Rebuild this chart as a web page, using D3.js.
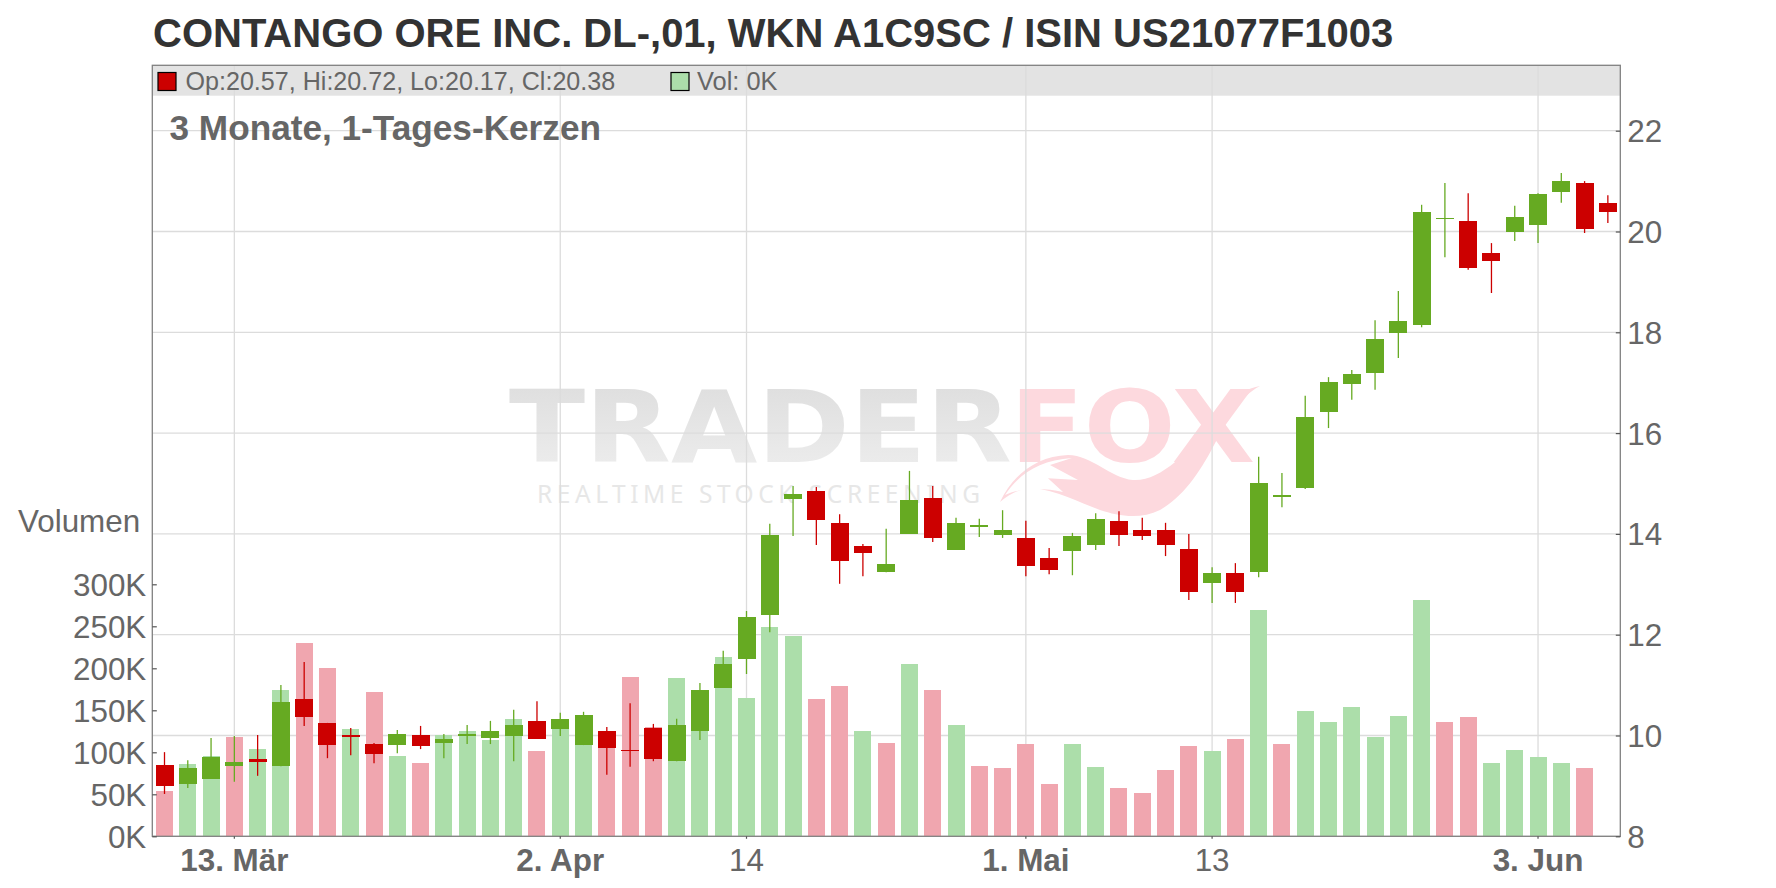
<!DOCTYPE html>
<html>
<head>
<meta charset="utf-8">
<script src="https://cdn.jsdelivr.net/npm/d3@7"></script>
<style>
    body { margin: 0; background: #fff; }
    text { font-family: "Liberation Sans", Arial, sans-serif; }
</style>
</head>
<body>
<div id="graph"></div>
<script>
// prices and volume, one entry per trading day
let candleOpen = [9.41, 9.04, 9.14, 9.39, 9.53, 9.39, 10.72, 10.25, 10.01, 9.83,
    9.81, 10.01, 9.85, 9.99, 9.95, 9.99, 10.29, 10.13, 9.81, 10.09,
    9.71, 10.15, 9.49, 10.09, 10.94, 11.52, 12.39, 14.69, 14.85, 14.22,
    13.76, 13.24, 14.00, 14.71, 13.68, 14.14, 13.98, 13.92, 13.52, 13.66,
    13.78, 14.26, 14.08, 14.08, 13.70, 13.03, 13.22, 13.24, 14.73, 14.91,
    16.42, 16.97, 17.19, 17.99, 18.14, 20.25, 20.21, 19.57, 19.99, 20.13,
    20.78, 20.96, 20.57];
let candleHigh = [9.67, 9.51, 9.95, 9.99, 10.01, 11.00, 11.46, 10.25, 10.15, 9.85,
    10.11, 10.19, 10.03, 10.21, 10.29, 10.51, 10.68, 10.45, 10.47, 10.17,
    10.64, 10.23, 10.33, 11.04, 11.68, 12.47, 14.20, 14.95, 14.93, 14.39,
    13.80, 14.10, 15.25, 14.95, 14.32, 14.30, 14.47, 14.26, 13.72, 14.02,
    14.41, 14.45, 14.32, 14.22, 14.00, 13.34, 13.42, 15.53, 15.21, 16.74,
    17.11, 17.25, 18.24, 18.82, 20.53, 20.96, 20.76, 19.77, 20.51, 20.76,
    21.16, 21.00, 20.72];
let candleLow = [8.84, 8.96, 9.14, 9.08, 9.20, 9.39, 10.19, 9.55, 9.61, 9.45,
    9.65, 9.73, 9.55, 9.83, 9.83, 9.49, 9.93, 9.99, 9.81, 9.22,
    9.38, 9.49, 9.49, 9.91, 10.94, 11.22, 12.05, 13.96, 13.78, 13.01,
    13.16, 13.24, 14.00, 13.84, 13.68, 13.94, 13.92, 13.16, 13.20, 13.18,
    13.68, 13.76, 13.88, 13.56, 12.69, 12.63, 12.63, 13.14, 14.53, 14.89,
    16.10, 16.66, 16.86, 17.49, 18.10, 19.49, 19.24, 18.78, 19.81, 19.77,
    20.57, 19.97, 20.17];
let candleClose = [9.00, 9.36, 9.57, 9.47, 9.47, 10.66, 10.37, 9.81, 9.97, 9.63,
    10.03, 9.79, 9.93, 10.03, 10.09, 10.21, 9.93, 10.33, 10.41, 9.75,
    9.69, 9.53, 10.21, 10.90, 11.42, 12.35, 13.98, 14.79, 14.28, 13.46,
    13.62, 13.40, 14.67, 13.92, 14.22, 14.18, 14.08, 13.36, 13.28, 13.96,
    14.30, 13.98, 13.96, 13.78, 12.85, 13.22, 12.85, 15.01, 14.77, 16.32,
    17.01, 17.17, 17.87, 18.22, 20.39, 20.27, 19.28, 19.41, 20.29, 20.74,
    21.00, 20.05, 20.38];
// volume in thousands
let volume = [54, 86, 96, 118, 104, 174, 230, 200, 128, 172,
    96, 87, 121, 125, 115, 140, 102, 132, 123, 115,
    190, 130, 188, 144, 213, 165, 249, 238, 163, 179,
    125, 111, 205, 174, 132, 84, 81, 110, 62, 110,
    82.5, 57.5, 51.5, 79, 107.5, 102, 116, 269, 110, 149,
    136, 154, 118, 143, 281, 136, 142, 87, 103, 94,
    87, 81, 0];
let volumeDir = ["d", "u", "u", "d", "u", "u", "d", "d", "u", "d",
    "u", "d", "u", "u", "u", "u", "d", "u", "u", "d",
    "d", "d", "u", "u", "u", "u", "u", "u", "d", "d",
    "u", "d", "u", "d", "u", "d", "d", "d", "d", "u",
    "u", "d", "d", "d", "d", "u", "d", "u", "d", "u",
    "u", "u", "u", "u", "u", "d", "d", "u", "u", "u",
    "u", "d", "d"];

let priceTicks = [8, 10, 12, 14, 16, 18, 20, 22];
let volumeTicks = [0, 50, 100, 150, 200, 250, 300];
let dateTickIndex = [3, 17, 25, 37, 45, 59];
let dateTickLabels = ["13. Mär", "2. Apr", "14", "1. Mai", "13", "3. Jun"];
let dateTickBold = [true, true, false, true, false, true];

let titleText = "CONTANGO ORE INC. DL-,01, WKN A1C9SC / ISIN US21077F1003";
let legendPrice = "Op:20.57, Hi:20.72, Lo:20.17, Cl:20.38";
let legendVolume = "Vol: 0K";
let subtitleText = "3 Monate, 1-Tages-Kerzen";

let upColor = "#66aa22", downColor = "#cc0000";
let volUpColor = "#acdeaa", volDownColor = "#f0a6af";
let gridColor = "#dcdcdc", textColor = "#666666";

let width = 1776, height = 888;
let plot = { left: 152.3, right: 1620.3, top: 65.3, bottom: 836.3 };
let labelSize = 31.4;

let svg = d3.select("#graph")
    .append("svg")
    .attr("width", width)
    .attr("height", height)
    .style("display", "block");

let x = d3.scaleBand()
    .domain(d3.range(candleOpen.length))
    .range([152.86, 1619.5]);
let xc = i => x(i) + x.bandwidth() / 2;

let y = d3.scaleLinear().domain([8, 22]).range([plot.bottom, 130.7]);
let yVol = d3.scaleLinear().domain([0, 300]).range([plot.bottom, 584.3]);

// legend band sits behind the grid
svg.append("rect")
    .attr("x", plot.left)
    .attr("y", plot.top)
    .attr("width", plot.right - plot.left)
    .attr("height", 30.4)
    .attr("fill", "#e3e3e3");

// watermark
let defs = svg.append("defs");
let wmGrad = defs.append("linearGradient")
    .attr("id", "wmGray")
    .attr("x1", 0).attr("y1", 0).attr("x2", 0).attr("y2", 1);
wmGrad.append("stop").attr("offset", "0%").attr("stop-color", "#dcdcdc");
wmGrad.append("stop").attr("offset", "100%").attr("stop-color", "#efefef");

svg.append("text")
    .attr("x", 509)
    .attr("y", 462)
    .attr("textLength", 503)
    .attr("lengthAdjust", "spacingAndGlyphs")
    .style("font-family", "'DejaVu Sans'")
    .style("font-weight", "bold")
    .style("font-size", "100px")
    .attr("fill", "url(#wmGray)")
    .text("TRADER");
svg.append("text")
    .attr("x", 1010)
    .attr("y", 462)
    .attr("textLength", 245)
    .attr("lengthAdjust", "spacingAndGlyphs")
    .style("font-family", "'DejaVu Sans'")
    .style("font-weight", "bold")
    .style("font-size", "100px")
    .attr("fill", "#fdd9de")
    .text("FOX");
svg.append("text")
    .attr("x", 537)
    .attr("y", 503)
    .attr("textLength", 443)
    .style("font-family", "'Noto Sans'")
    .style("font-size", "24.5px")
    .attr("fill", "#e7e7e7")
    .text("REALTIME STOCK SCREENING");
// fox tail
svg.append("path")
    .attr("d", "M1000 502 C1012 476 1036 456 1068 455 C1092 455 1110 478 1133 480 C1160 482 1190 450 1207 430 C1222 410 1236 390 1260 386 C1240 396 1228 420 1213 447 C1200 472 1182 498 1160 510 C1140 520 1118 516 1100 510 C1078 502 1056 490 1033 488 C1020 488 1010 494 1000 502 Z")
    .attr("fill", "#fdd9de");
svg.append("path")
    .attr("d", "M1005 495 C1020 473 1040 460 1072 458 L1050 465 L1078 480 L1048 478.3 L1063 492 C1043 487 1020 488 1005 495 Z")
    .attr("fill", "#ffffff");

// grid
svg.append("g")
    .selectAll("line")
    .data(priceTicks)
    .enter()
    .append("line")
    .attr("x1", plot.left)
    .attr("x2", plot.right)
    .attr("y1", d => y(d))
    .attr("y2", d => y(d))
    .attr("stroke", gridColor)
    .attr("stroke-width", 1.3);
svg.append("g")
    .selectAll("line")
    .data(dateTickIndex)
    .enter()
    .append("line")
    .attr("x1", d => xc(d))
    .attr("x2", d => xc(d))
    .attr("y1", plot.top)
    .attr("y2", plot.bottom)
    .attr("stroke", gridColor)
    .attr("stroke-width", 1.3);

// volume bars
svg.append("g")
    .selectAll("rect")
    .data(volume)
    .enter()
    .append("rect")
    .attr("x", (d, i) => xc(i) - 8.5)
    .attr("y", d => yVol(d))
    .attr("width", 17)
    .attr("height", d => yVol(0) - yVol(d))
    .attr("fill", (d, i) => volumeDir[i] == "u" ? volUpColor : volDownColor)
    .attr("shape-rendering", "crispEdges");

// candles
let candles = svg.append("g")
    .selectAll("g")
    .data(candleOpen)
    .enter()
    .append("g");
candles.append("line")
    .attr("x1", (d, i) => xc(i))
    .attr("x2", (d, i) => xc(i))
    .attr("y1", (d, i) => y(candleHigh[i]))
    .attr("y2", (d, i) => y(candleLow[i]))
    .attr("stroke", (d, i) => candleClose[i] >= d ? upColor : downColor)
    .attr("stroke-width", 1.3);
candles.append("rect")
    .attr("x", (d, i) => xc(i) - 9)
    .attr("y", (d, i) => y(Math.max(d, candleClose[i])))
    .attr("width", 18)
    .attr("height", (d, i) => Math.max(1, Math.abs(y(d) - y(candleClose[i]))))
    .attr("fill", (d, i) => candleClose[i] >= d ? upColor : downColor)
    .attr("shape-rendering", "crispEdges");

// plot frame
svg.append("rect")
    .attr("x", plot.left)
    .attr("y", plot.top)
    .attr("width", plot.right - plot.left)
    .attr("height", plot.bottom - plot.top)
    .attr("fill", "none")
    .attr("stroke", "#808080")
    .attr("stroke-width", 1.3);

// axes
let priceAxis = svg.append("g")
    .attr("transform", "translate(" + plot.right + ",0)")
    .call(d3.axisRight(y).tickValues(priceTicks).tickSize(-4.5).tickPadding(7));
let volumeAxis = svg.append("g")
    .attr("transform", "translate(" + plot.left + ",0)")
    .call(d3.axisLeft(yVol).tickValues(volumeTicks).tickSize(-4.5).tickPadding(6).tickFormat(d => d + "K"));
let dateAxis = svg.append("g")
    .attr("transform", "translate(0," + plot.bottom + ")")
    .call(d3.axisBottom(x).tickValues(dateTickIndex).tickSize(2.5).tickPadding(10)
        .tickFormat((d, i) => dateTickLabels[i]));
[priceAxis, volumeAxis, dateAxis].forEach(axis => {
    axis.select(".domain").remove();
    axis.selectAll("line").attr("stroke", "#555555").attr("stroke-width", 1.2);
    axis.selectAll("text")
        .style("font-family", "'Liberation Sans'")
        .style("font-size", labelSize + "px")
        .attr("fill", textColor);
});
priceAxis.selectAll("text").attr("dy", "0.35em");
volumeAxis.selectAll("text").attr("dy", "0.36em");
dateAxis.selectAll("text")
    .style("font-weight", (d, i) => dateTickBold[i] ? "bold" : "normal");

// title, legend, labels
svg.append("text")
    .attr("x", 153)
    .attr("y", 47)
    .style("font-size", "40px")
    .style("font-weight", "bold")
    .attr("fill", "#333333")
    .text(titleText);
svg.append("text")
    .attr("x", 169.5)
    .attr("y", 140)
    .style("font-size", "35.2px")
    .style("font-weight", "bold")
    .attr("fill", textColor)
    .text(subtitleText);
svg.append("text")
    .attr("x", 18)
    .attr("y", 532)
    .style("font-size", labelSize + "px")
    .attr("fill", textColor)
    .text("Volumen");

svg.append("rect")
    .attr("x", 158)
    .attr("y", 72.5)
    .attr("width", 18)
    .attr("height", 18)
    .attr("fill", downColor)
    .attr("stroke", "#000000")
    .attr("stroke-width", 1.2);
svg.append("text")
    .attr("x", 185.5)
    .attr("y", 90)
    .style("font-size", "25.1px")
    .attr("fill", textColor)
    .text(legendPrice);
svg.append("rect")
    .attr("x", 671)
    .attr("y", 72.5)
    .attr("width", 18)
    .attr("height", 18)
    .attr("fill", volUpColor)
    .attr("stroke", "#000000")
    .attr("stroke-width", 1.2);
svg.append("text")
    .attr("x", 697)
    .attr("y", 90)
    .style("font-size", "25.4px")
    .attr("fill", textColor)
    .text(legendVolume);
</script>
</body>
</html>
